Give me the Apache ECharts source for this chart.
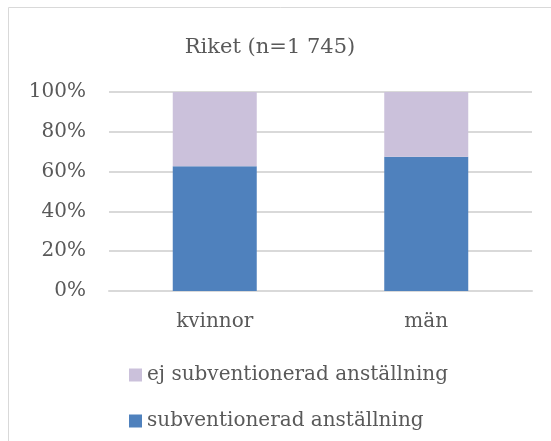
<!DOCTYPE html>
<html>
<head>
<meta charset="utf-8">
<script src="https://cdn.jsdelivr.net/npm/echarts@6/dist/echarts.min.js"></script>
<style>
  html, body { margin: 0; padding: 0; background: #fff; }
  #chart { width: 551px; height: 441px; }
</style>
</head>
<body>
<div id="chart"></div>
<script>
// data
var categories = ['kvinnor', 'män'];
var subventionerad = [62.7, 67.5];
var ejSubventionerad = [37.3, 32.5];
var yTicks = [0, 20, 40, 60, 80, 100];

var font = 'DejaVu Serif';
var textColor = '#595959';

var myChart = echarts.init(document.getElementById('chart'));

var option = {
  animation: false,
  color: ['#4F81BD', '#CBC1DB'],
  graphic: [
    {
      type: 'rect',
      shape: { x: 8.5, y: 7.5, width: 600, height: 500 },
      style: { fill: 'none', stroke: '#D9D9D9', lineWidth: 1 }
    }
  ],
  title: {
    text: 'Riket (n=1 745)',
    left: 265,
    top: 32,
    textAlign: 'center',
    textStyle: { fontFamily: font, fontWeight: 'normal', fontSize: 21, color: textColor }
  },
  legend: {
    orient: 'vertical',
    left: 124,
    top: 360,
    itemWidth: 13,
    itemHeight: 13,
    itemGap: 26,
    icon: 'rect',
    data: ['ej subventionerad anställning', 'subventionerad anställning'],
    textStyle: { fontFamily: font, fontSize: 20, color: textColor }
  },
  grid: { left: 109, right: 19, top: 92, bottom: 150 },
  xAxis: {
    type: 'category',
    data: categories,
    axisTick: { show: false },
    axisLine: { lineStyle: { color: '#D9D9D9', width: 2 } },
    axisLabel: { fontFamily: font, fontSize: 20, color: textColor, margin: 21 }
  },
  yAxis: {
    type: 'value',
    min: yTicks[0],
    max: yTicks[yTicks.length - 1],
    interval: 20,
    axisLine: { show: false },
    axisTick: { show: false },
    splitLine: { lineStyle: { color: '#D9D9D9', width: 2 } },
    axisLabel: {
      fontFamily: font, fontSize: 20, color: textColor, margin: 23,
      padding: [4, 0, 0, 0],
      formatter: function (v) { return v + '%'; }
    }
  },
  series: [
    {
      name: 'subventionerad anställning',
      type: 'bar',
      stack: 'a',
      barWidth: 84,
      data: subventionerad
    },
    {
      name: 'ej subventionerad anställning',
      type: 'bar',
      stack: 'a',
      barWidth: 84,
      data: ejSubventionerad
    }
  ]
};

myChart.setOption(option);
</script>
</body>
</html>
